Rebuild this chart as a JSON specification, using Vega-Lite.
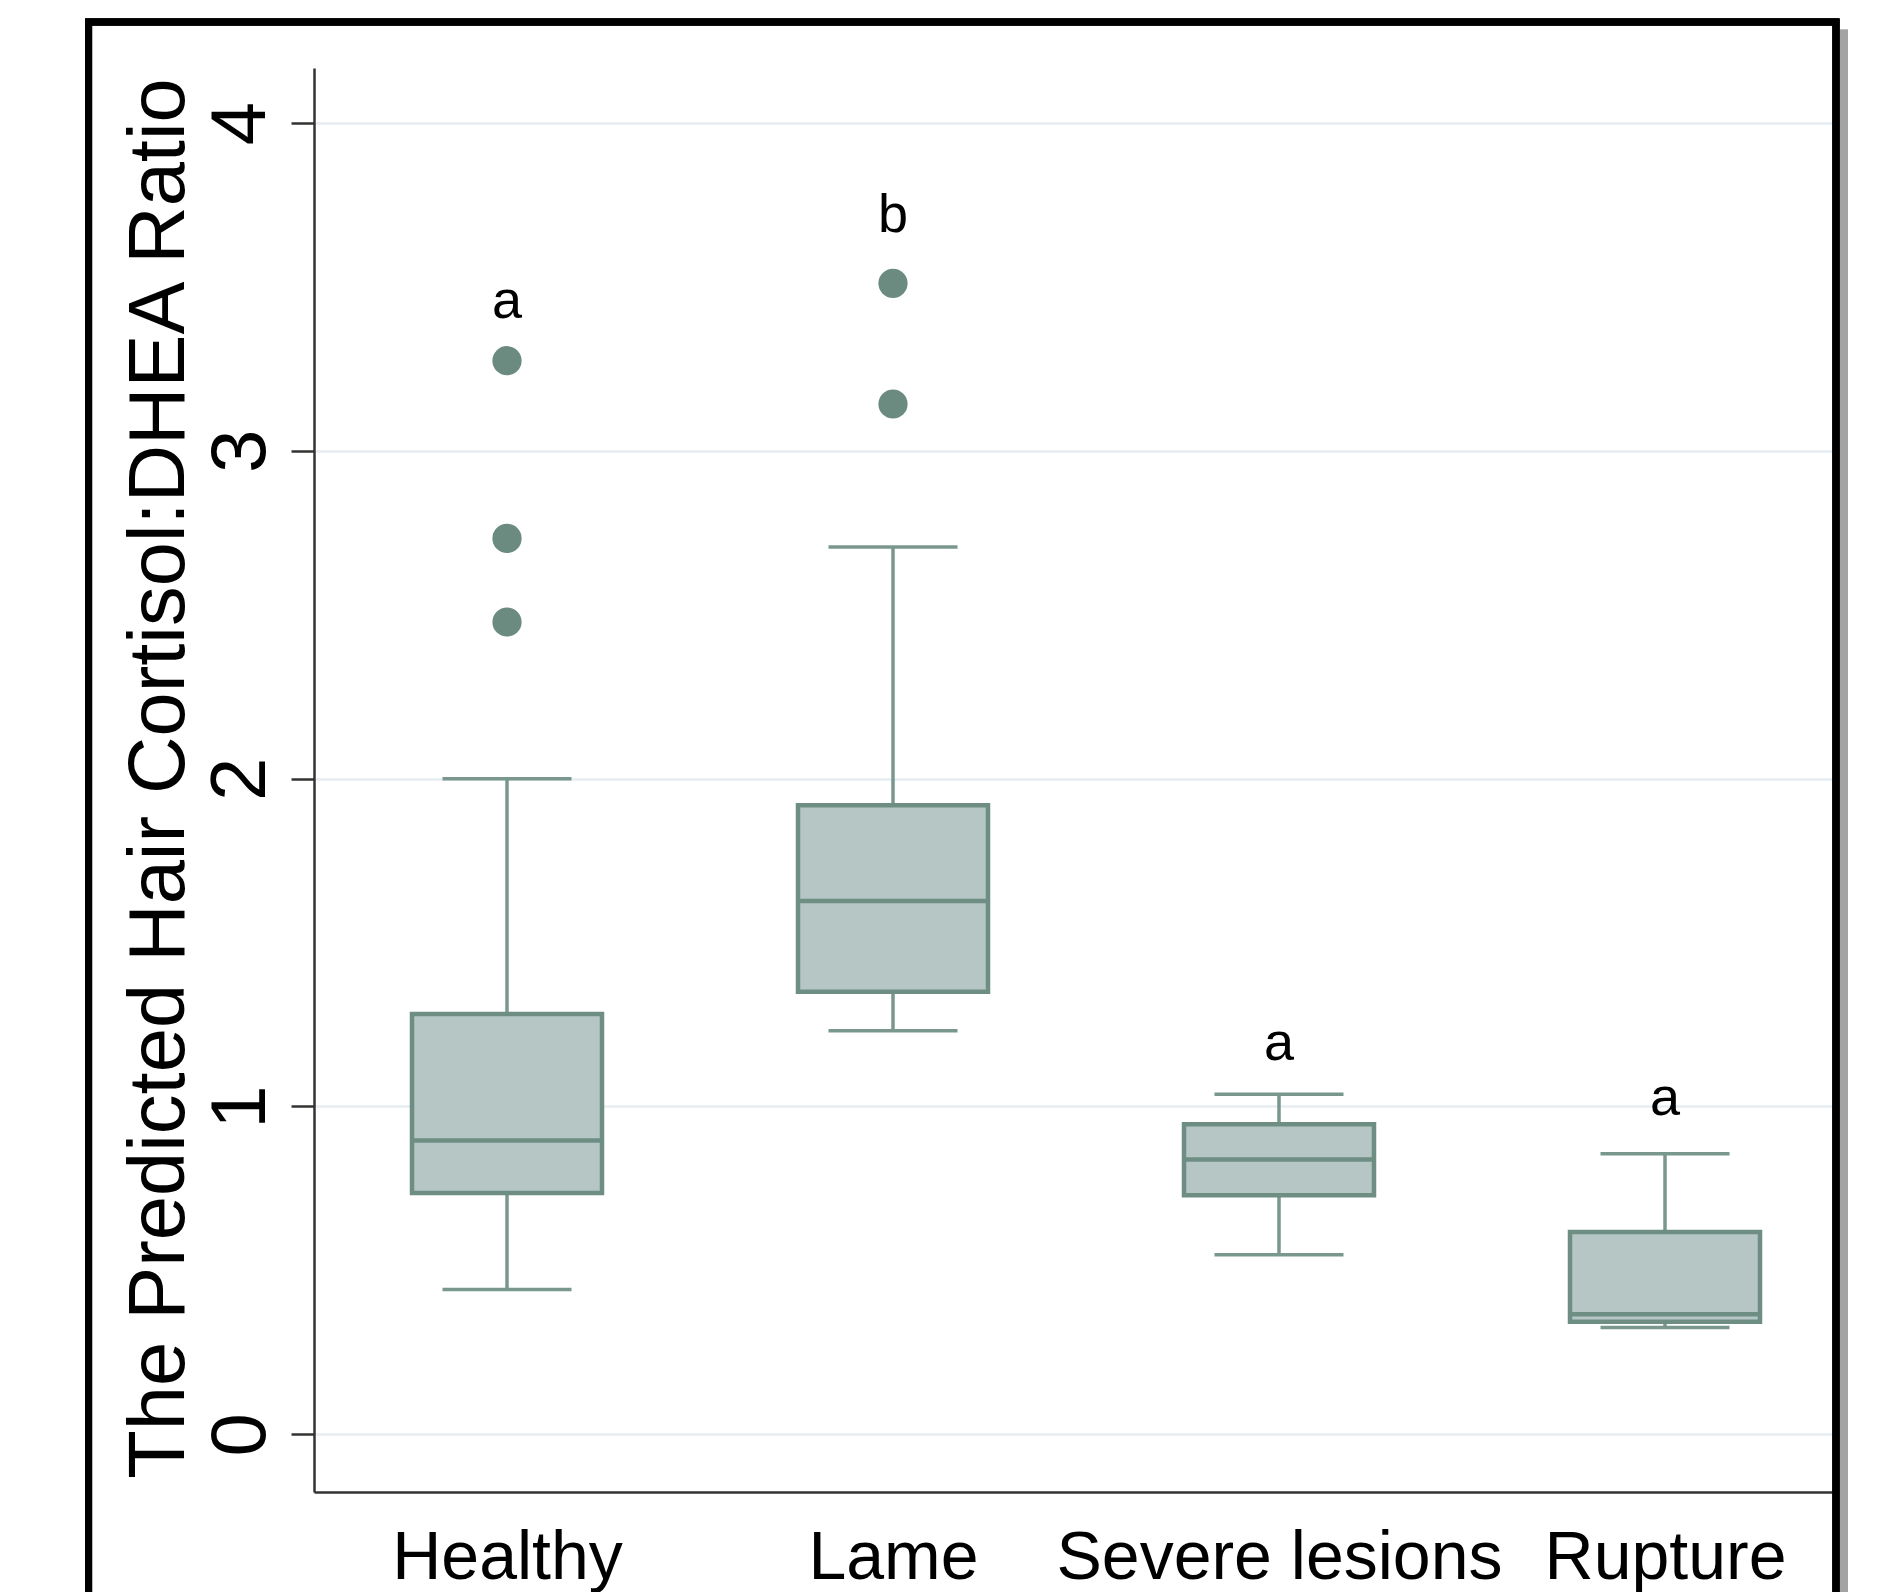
{
  "$schema": "https://vega.github.io/schema/vega-lite/v6.json",
  "autosize": {"type": "none"},
  "padding": {"left": 314, "top": 68, "right": 47, "bottom": 100},
  "width": 1522,
  "height": 1424,
  "background": "white",
  "config": {"view": {"stroke": null}},
  "datasets": {
    "stats": [
      {"group": "Healthy", "pos": 1, "lower": 0.442, "q1": 0.736, "median": 0.896, "q3": 1.282, "upper": 2.0, "letter": "a", "letter_y": 3.405},
      {"group": "Lame", "pos": 2, "lower": 1.231, "q1": 1.35, "median": 1.627, "q3": 1.919, "upper": 2.707, "letter": "b", "letter_y": 3.668},
      {"group": "Severe lesions", "pos": 3, "lower": 0.548, "q1": 0.729, "median": 0.838, "q3": 0.946, "upper": 1.037, "letter": "a", "letter_y": 1.141},
      {"group": "Rupture", "pos": 4, "lower": 0.326, "q1": 0.343, "median": 0.366, "q3": 0.617, "upper": 0.856, "letter": "a", "letter_y": 0.973}
    ],
    "outliers": [
      {"group": "Healthy", "pos": 1, "value": 3.275},
      {"group": "Healthy", "pos": 1, "value": 2.733},
      {"group": "Healthy", "pos": 1, "value": 2.478},
      {"group": "Lame", "pos": 2, "value": 3.511},
      {"group": "Lame", "pos": 2, "value": 3.143}
    ]
  },
  "data": {"name": "stats"},
  "layer": [
    {
      "mark": {"type": "rule", "stroke": "#7a978d", "strokeWidth": 3.5},
      "encoding": {
        "x": {
          "field": "pos", "type": "quantitative",
          "scale": {"domain": [0.5, 4.443], "nice": false, "zero": false, "padding": 0},
          "axis": {
            "title": null,
            "values": [1, 2, 3, 4],
            "labelExpr": "datum.value == 1 ? 'Healthy' : datum.value == 2 ? 'Lame' : datum.value == 3 ? 'Severe lesions' : 'Rupture'",
            "labelFont": "Liberation Sans",
            "labelFontSize": 68,
            "labelColor": "#000000",
            "labelPadding": 32,
            "labelBaseline": "top",
            "labelAlign": "center",
            "labelOverlap": false,
            "labelFlush": false,
            "labelLimit": 0,
            "ticks": false,
            "tickSize": 0,
            "grid": false,
            "domain": true,
            "domainColor": "#333333",
            "domainWidth": 2.5
          }
        },
        "y": {
          "field": "lower", "type": "quantitative",
          "scale": {"domain": [-0.176, 4.168], "nice": false, "zero": false, "padding": 0},
          "axis": {
            "title": "The Predicted Hair Cortisol:DHEA Ratio",
            "titleFont": "Liberation Sans",
            "titleFontSize": 79.5,
            "titleFontWeight": "normal",
            "titleColor": "#000000",
            "titleAngle": 270,
            "titleAlign": "center",
            "titleBaseline": "alphabetic",
            "titleX": -131,
            "titleY": 710,
            "titleLimit": 0,
            "values": [0, 1, 2, 3, 4],
            "format": "d",
            "labelFont": "Liberation Sans",
            "labelFontSize": 78,
            "labelColor": "#000000",
            "labelAngle": 270,
            "labelAlign": "center",
            "labelBaseline": "alphabetic",
            "labelPadding": 27,
            "ticks": true,
            "tickSize": 23,
            "tickWidth": 2.5,
            "tickColor": "#333333",
            "domain": true,
            "domainColor": "#333333",
            "domainWidth": 2.5,
            "grid": true,
            "gridColor": "#e6edf3",
            "gridWidth": 2.5
          }
        },
        "y2": {"field": "q1"}
      }
    },
    {
      "mark": {"type": "rule", "stroke": "#7a978d", "strokeWidth": 3.5},
      "encoding": {
        "x": {"field": "pos", "type": "quantitative"},
        "y": {"field": "q3", "type": "quantitative"},
        "y2": {"field": "upper"}
      }
    },
    {
      "mark": {"type": "tick", "orient": "horizontal", "color": "#7a978d", "size": 129, "thickness": 3.5, "opacity": 1},
      "encoding": {
        "x": {"field": "pos", "type": "quantitative"},
        "y": {"field": "lower", "type": "quantitative"}
      }
    },
    {
      "mark": {"type": "tick", "orient": "horizontal", "color": "#7a978d", "size": 129, "thickness": 3.5, "opacity": 1},
      "encoding": {
        "x": {"field": "pos", "type": "quantitative"},
        "y": {"field": "upper", "type": "quantitative"}
      }
    },
    {
      "mark": {"type": "bar", "orient": "vertical", "size": 190, "fill": "#b5c6c5", "stroke": "#6e8e84", "strokeWidth": 4.5},
      "encoding": {
        "x": {"field": "pos", "type": "quantitative"},
        "y": {"field": "q1", "type": "quantitative"},
        "y2": {"field": "q3"}
      }
    },
    {
      "mark": {"type": "tick", "orient": "horizontal", "color": "#6e8e84", "size": 190, "thickness": 4.5, "opacity": 1},
      "encoding": {
        "x": {"field": "pos", "type": "quantitative"},
        "y": {"field": "median", "type": "quantitative"}
      }
    },
    {
      "data": {"name": "outliers"},
      "mark": {"type": "circle", "size": 855, "color": "#6b8b80", "opacity": 1},
      "encoding": {
        "x": {"field": "pos", "type": "quantitative"},
        "y": {"field": "value", "type": "quantitative"}
      }
    },
    {
      "mark": {"type": "text", "font": "Liberation Sans", "fontSize": 54, "color": "#000000", "align": "center", "baseline": "alphabetic"},
      "encoding": {
        "x": {"field": "pos", "type": "quantitative"},
        "y": {"field": "letter_y", "type": "quantitative"},
        "text": {"field": "letter"}
      }
    },
    {
      "mark": {"type": "rule", "stroke": "#a3a3a3", "strokeWidth": 8, "clip": false},
      "encoding": {
        "x": {"datum": 4.4635},
        "y": {"datum": 4.285},
        "y2": {"datum": -0.75}
      }
    },
    {
      "mark": {"type": "rect", "filled": false, "fill": null, "stroke": "#000000", "strokeWidth": 7, "clip": false},
      "encoding": {
        "x": {"datum": -0.084},
        "x2": {"datum": 4.443},
        "y": {"datum": 4.308},
        "y2": {"datum": -0.75}
      }
    }
  ]
}
